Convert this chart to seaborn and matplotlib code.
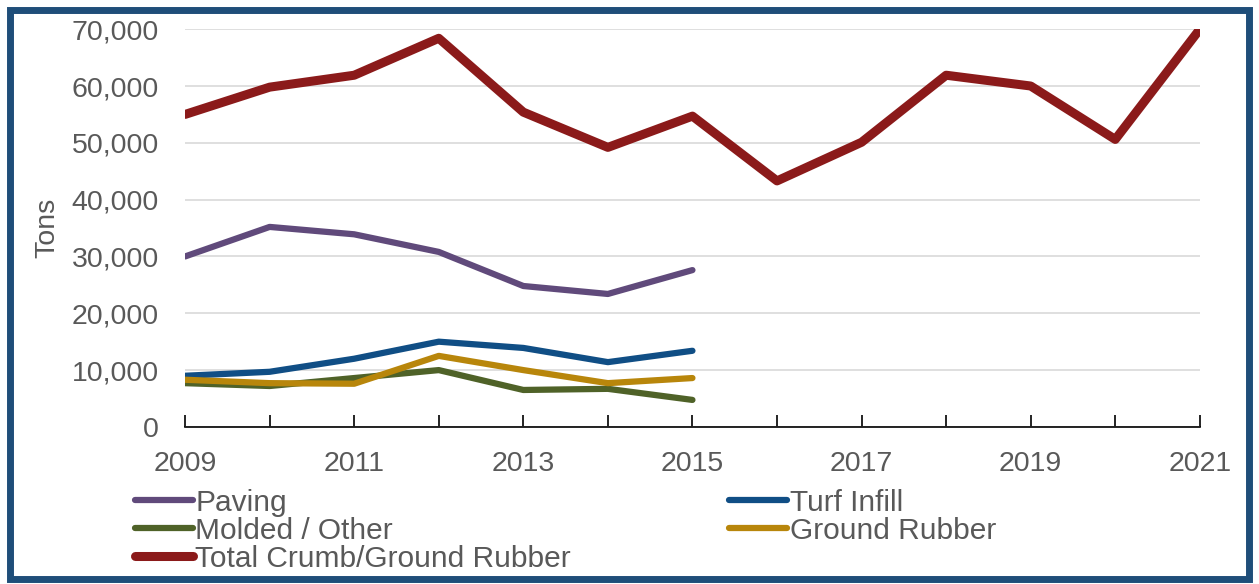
import numpy as np
import pandas as pd
import matplotlib
matplotlib.use("Agg")
import matplotlib.pyplot as plt
import matplotlib.ticker as mtick
import matplotlib.patches as mpatches
import seaborn as sns

# values (tons)
years = list(range(2009, 2022))
total = [55000, 59800, 61900, 68400, 55400, 49200, 54700, 43300, 50100, 61900, 60000, 50600, 70000]
paving = [30000, 35200, 33900, 30800, 24800, 23400, 27600]
turf = [9000, 9700, 12000, 15000, 13900, 11400, 13400]
ground = [8300, 7700, 7600, 12500, 10000, 7700, 8600]
molded = [7700, 7200, 8600, 10000, 6500, 6700, 4750]
year_labels = years[::2]

series_names = ["Paving", "Turf Infill", "Molded / Other", "Ground Rubber", "Total Crumb/Ground Rubber"]
colors = ["#604a7b", "#104e85", "#4f6228", "#b8860b", "#8b1a1a"]
widths = [4.5, 4.5, 4.5, 4.5, 6.5]

sns.set_theme(style="white")
plt.rcParams["font.family"] = ["Liberation Sans", "DejaVu Sans"]

fig = plt.figure(figsize=(12.59, 5.84), dpi=100)
ax = fig.add_axes([0.147, 0.269, 0.806, 0.681])

data = [paving, turf, molded, ground, total]
handles = {}
for name, vals, col, lw in zip(series_names, data, colors, widths):
    df = pd.DataFrame({"year": years[:len(vals)], "tons": vals})
    sns.lineplot(data=df, x="year", y="tons", ax=ax, color=col, linewidth=lw,
                 label=name, solid_capstyle="round")
    handles[name] = ax.get_lines()[-1]

ax.set_xlim(2009, 2021)
ax.set_ylim(0, 70000)
ax.yaxis.set_major_locator(mtick.MultipleLocator(10000))
ax.yaxis.set_major_formatter(mtick.StrMethodFormatter("{x:,.0f}"))
ax.xaxis.set_major_locator(mtick.FixedLocator(year_labels))
ax.xaxis.set_minor_locator(mtick.FixedLocator(years))
ax.xaxis.set_major_formatter(mtick.StrMethodFormatter("{x:.0f}"))
ax.grid(axis="y", color="#d9d9d9", linewidth=1.2)
ax.set_axisbelow(True)
for s in ["left", "right", "top"]:
    ax.spines[s].set_visible(False)
ax.spines["bottom"].set_color("black")
ax.spines["bottom"].set_linewidth(1.2)
ax.tick_params(axis="x", which="both", direction="in", length=9, width=1.2,
               color="black", bottom=True, labelsize=20.5, labelcolor="#595959", pad=17)
ax.tick_params(axis="y", length=0, labelsize=20.5, labelcolor="#595959", pad=19)
ax.set_xlabel("")
ax.set_ylabel("Tons", fontsize=20.5, color="#595959", labelpad=8)

ax.get_legend().remove()
order = ["Paving", "Molded / Other", "Total Crumb/Ground Rubber", "Turf Infill", "Ground Rubber"]
fig.legend([handles[n] for n in order], order, ncol=2, loc="upper left",
           bbox_to_anchor=(0.107, 0.163), frameon=False, fontsize=21.5,
           handlelength=1.95, handletextpad=0.08, labelspacing=0.0,
           columnspacing=5.3, labelcolor="#595959", borderaxespad=0, borderpad=0)

# dark blue frame around the whole picture
fig.patches.append(mpatches.Rectangle((0.008, 0.008), 0.984, 0.975, transform=fig.transFigure,
                                      fill=False, edgecolor="#1f4e79", linewidth=5))

fig.savefig("out.png", dpi=100)
